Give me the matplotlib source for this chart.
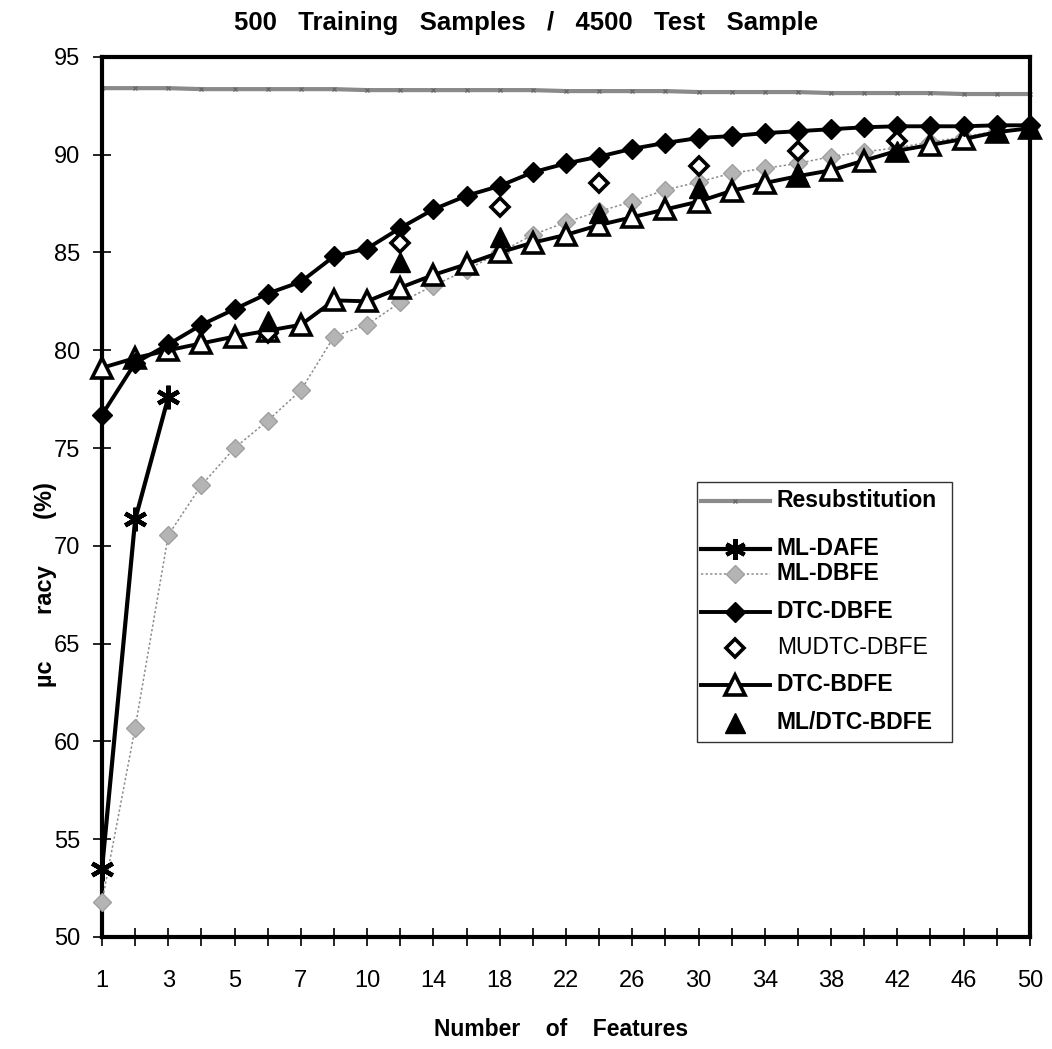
import matplotlib
matplotlib.use("Agg")
import matplotlib.pyplot as plt
from matplotlib.lines import Line2D
from matplotlib.patches import Rectangle

plt.rcParams['font.family'] = ['Liberation Sans', 'DejaVu Sans']

# Feature counts shown along the category axis
features = [1, 2, 3, 4, 5, 6, 7, 8, 10, 12, 14, 16, 18, 20, 22, 24, 26, 28,
            30, 32, 34, 36, 38, 40, 42, 44, 46, 48, 50]
tick_labels = ['1', '3', '5', '7', '10', '14', '18', '22', '26', '30', '34',
               '38', '42', '46', '50']

resubstitution = [93.4, 93.4, 93.4, 93.35, 93.35, 93.35, 93.35, 93.35, 93.3,
                  93.3, 93.3, 93.3, 93.3, 93.3, 93.25, 93.25, 93.25, 93.25,
                  93.2, 93.2, 93.2, 93.2, 93.15, 93.15, 93.15, 93.15, 93.1,
                  93.1, 93.1]

ml_dafe_features = [1, 2, 3]
ml_dafe = [53.5, 71.35, 77.6]

ml_dbfe = [51.8, 60.7, 70.55, 73.1, 75.0, 76.4, 77.95, 80.7, 81.3, 82.45,
           83.3, 84.1, 85.0, 85.9, 86.55, 87.1, 87.6, 88.2, 88.6, 89.05,
           89.3, 89.55, 89.9, 90.15, 90.35, 90.65, 90.9, 91.2, 91.4]

dtc_dbfe = [76.7, 79.35, 80.3, 81.3, 82.1, 82.9, 83.5, 84.8, 85.2, 86.25,
            87.2, 87.9, 88.4, 89.1, 89.55, 89.9, 90.3, 90.6, 90.85, 90.95,
            91.1, 91.2, 91.3, 91.4, 91.45, 91.45, 91.45, 91.5, 91.5]

mudtc_features = [6, 12, 18, 24, 30, 36, 42]
mudtc_dbfe = [80.9, 85.5, 87.3, 88.55, 89.4, 90.2, 90.7]

dtc_bdfe = [79.1, 79.6, 80.0, 80.35, 80.7, 81.0, 81.3, 82.55, 82.5, 83.2,
            83.85, 84.4, 85.0, 85.5, 85.9, 86.4, 86.8, 87.2, 87.6, 88.15,
            88.55, 88.9, 89.2, 89.7, 90.2, 90.5, 90.8, 91.15, 91.35]

mldtc_features = [6, 12, 18, 24, 30, 36, 42, 48, 50]
ml_dtc_bdfe = [81.5, 84.5, 85.8, 87.0, 88.3, 89.0, 90.2, 91.25, 91.35]

pos = list(range(len(features)))


def positions(sub):
    return [features.index(f) for f in sub]


fig = plt.figure(figsize=(10.52, 10.49), dpi=100)
ax = fig.add_axes([0.097, 0.1068, 0.882, 0.839])

grey_line = '#8c8c8c'
grey_mark = '#b4b4b4'
resub_style = dict(color='#8a8a8a', lw=3, marker='x', ms=3.5, mew=1,
                   mec='#6a6a6a')

ax.plot(pos, resubstitution, zorder=2, clip_on=False, **resub_style)
ax.plot(pos, ml_dbfe, color=grey_line, lw=1.1, ls=(0, (1.5, 1.5)),
        marker='D', ms=9, mfc=grey_mark, mec='#a0a0a0', mew=1, zorder=3,
        clip_on=False)
ax.plot(pos, dtc_bdfe, color='black', lw=2.8, marker='^', ms=14,
        mfc='white', mec='black', mew=2.6, zorder=4, clip_on=False)
ax.plot(pos, dtc_dbfe, color='black', lw=2.8, marker='D', ms=10.5,
        mfc='black', mec='black', zorder=5, clip_on=False)
ax.plot(positions(ml_dafe_features), ml_dafe, color='black', lw=3,
        marker=(6, 2, 0), ms=17, mew=3.2, mec='black', zorder=6,
        clip_on=False)
ax.plot(positions(mudtc_features), mudtc_dbfe, ls='none', marker='D', ms=9,
        mfc='white', mec='black', mew=2.6, zorder=7, clip_on=False)
ax.plot(positions(mldtc_features), ml_dtc_bdfe, ls='none', marker='^',
        ms=15, mfc='black', mec='black', zorder=8, clip_on=False)

ax.set_xlim(0, len(features) - 1)
ax.set_ylim(50, 95)
ax.set_xticks(pos)
ax.set_xticklabels([str(f) if str(f) in tick_labels and i % 2 == 0 else ''
                    for i, f in enumerate(features)])
ax.set_yticks([50, 55, 60, 65, 70, 75, 80, 85, 90, 95])

for s in ax.spines.values():
    s.set_linewidth(3)
    s.set_color('black')
ax.tick_params(axis='both', direction='inout', length=13, width=1.2,
               labelsize=17, colors='black')
ax.tick_params(axis='x', pad=17)
ax.tick_params(axis='y', pad=9)

fig.text(0.5, 0.978, '500   Training   Samples   /   4500   Test   Sample',
         ha='center', va='center', fontsize=18.5, fontweight='bold')
fig.text(0.533, 1 - 1030 / 1049, 'Number    of    Features', ha='center',
         va='center', fontsize=16.5, fontweight='bold')
fig.text(0.043, 1 - 585 / 1049, 'µc       racy       (%)', rotation=90,
         ha='center', va='center', fontsize=17, fontweight='bold')

# Legend panel drawn in axes coordinates
def ax_x(px):
    return (px - 102) / 928


def ax_y(py):
    return (937 - py) / 880


ax.add_patch(Rectangle((ax_x(697), ax_y(742)), ax_x(952) - ax_x(697),
                       ax_y(482) - ax_y(742), transform=ax.transAxes,
                       facecolor='white', edgecolor='#333333', lw=1,
                       zorder=20))

entries = [
    ('Resubstitution', 501, resub_style, True, 'bold'),
    ('ML-DAFE', 549, dict(color='black', lw=3, marker=(6, 2, 0), ms=15,
                          mew=3, mec='black'), True, 'bold'),
    ('ML-DBFE', 574, dict(color=grey_line, lw=1.1, ls=(0, (1.5, 1.5)),
                          marker='D', ms=9, mfc=grey_mark, mec='#a0a0a0'),
     True, 'bold'),
    ('DTC-DBFE', 612, dict(color='black', lw=2.8, marker='D', ms=10.5,
                           mfc='black', mec='black'), True, 'bold'),
    ('MUDTC-DBFE', 648, dict(ls='none', marker='D', ms=9, mfc='white',
                             mec='black', mew=2.6), False, 'normal'),
    ('DTC-BDFE', 685, dict(color='black', lw=2.8, marker='^', ms=14,
                           mfc='white', mec='black', mew=2.6), True, 'bold'),
    ('ML/DTC-BDFE', 723, dict(ls='none', marker='^', ms=15, mfc='black',
                              mec='black'), False, 'bold'),
]
for label, py, style, has_line, weight in entries:
    y = ax_y(py)
    if has_line:
        ax.add_line(Line2D([ax_x(701), ax_x(770)], [y, y],
                           transform=ax.transAxes, zorder=21,
                           **{k: v for k, v in style.items()
                              if k in ('color', 'lw', 'ls')}))
    mk = {k: v for k, v in style.items() if k not in ('color', 'lw', 'ls')}
    ax.add_line(Line2D([ax_x(735)], [y], transform=ax.transAxes, ls='none',
                       zorder=22, **mk))
    ax.text(ax_x(777), y, label, transform=ax.transAxes, va='center',
            ha='left', fontsize=16.5, fontweight=weight, zorder=23)

fig.savefig('out.png', dpi=100)
